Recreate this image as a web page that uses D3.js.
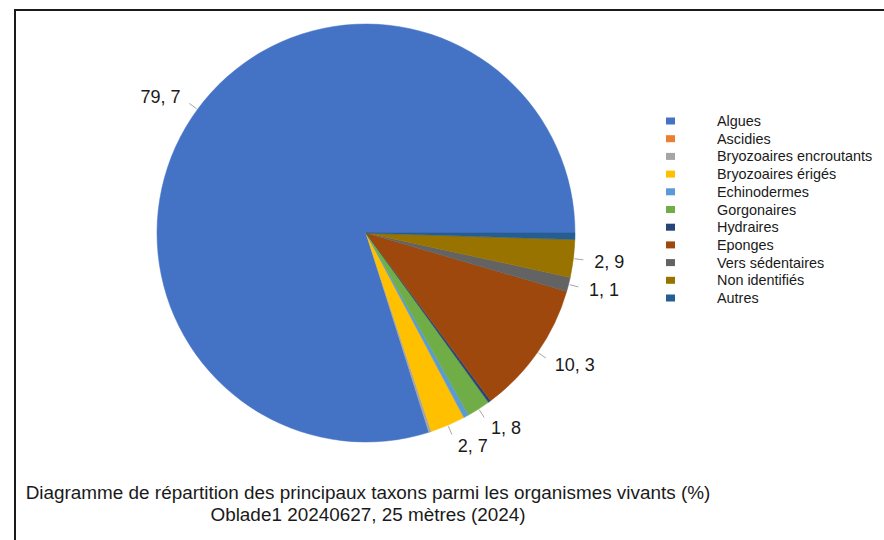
<!DOCTYPE html>
<html>
<head>
<meta charset="utf-8">
<script src="https://cdn.jsdelivr.net/npm/d3@7"></script>
<style>
  html, body { margin: 0; padding: 0; background: #ffffff; }
  svg { display: block; font-family: "Liberation Sans", Arial, sans-serif; }
</style>
</head>
<body>
<svg id="chart" width="884" height="540"></svg>
<script>
// Taxon categories (legend order) and their share of living organisms (%)
const taxa = [
  "Algues", "Ascidies", "Bryozoaires encroutants", "Bryozoaires érigés",
  "Echinodermes", "Gorgonaires", "Hydraires", "Eponges",
  "Vers sédentaires", "Non identifiés", "Autres"
];
const shares = [79.7, 0, 0.2, 2.7, 0.4, 1.8, 0.2, 10.3, 1.1, 2.9, 0.5];
// Only slices of at least 1 % carry a value label
const labelled = [true, false, false, true, false, true, false, true, true, true, false];
const palette = [
  "#4472C4", "#ED7D31", "#A5A5A5", "#FFC000", "#5B9BD5", "#70AD47",
  "#264478", "#9E480E", "#636363", "#997300", "#255E91"
];
const titleLines = [
  "Diagramme de répartition des principaux taxons parmi les organismes vivants (%)",
  "Oblade1 20240627, 25 mètres (2024)"
];

const svg = d3.select("#chart");

// Frame around the chart area (top and left edges)
svg.append("path")
  .attr("d", "M15,540 L15,10 L884,10")
  .attr("fill", "none")
  .attr("stroke", "#1a1a1a")
  .attr("stroke-width", 2);

const cx = 366, cy = 233, radius = 209;

const data = taxa.map((t, i) => ({ name: t, value: shares[i], color: palette[i], label: labelled[i] }));

// Slices run counter-clockwise, starting at 3 o'clock
const pie = d3.pie()
  .value(d => d.value)
  .sort(null)
  .startAngle(Math.PI / 2)
  .endAngle(Math.PI / 2 - 2 * Math.PI);

const arcs = pie(data);
const arc = d3.arc().innerRadius(0).outerRadius(radius);

const g = svg.append("g").attr("transform", `translate(${cx},${cy})`);

g.selectAll("path.slice")
  .data(arcs.filter(d => d.data.value > 0))
  .join("path")
  .attr("class", "slice")
  .attr("d", arc)
  .attr("fill", d => d.data.color)
  .attr("stroke", d => d.data.color)
  .attr("stroke-width", 0.5);

// Value labels with short leader lines
const fmt = v => String(v).replace(".", ", ");
const labelArcs = arcs.filter(d => d.data.label);

labelArcs.forEach(d => {
  const a = (d.startAngle + d.endAngle) / 2;   // d3 angle: clockwise from 12 o'clock
  const ux = Math.sin(a), uy = -Math.cos(a);
  const p1 = [ux * (radius + 1), uy * (radius + 1)];
  const p2 = [ux * (radius + 10), uy * (radius + 10)];
  g.append("line")
    .attr("x1", p1[0]).attr("y1", p1[1])
    .attr("x2", p2[0]).attr("y2", p2[1])
    .attr("stroke", "#a6a6a6")
    .attr("stroke-width", 1);
  const gap = 5 + 6 * ux * ux;
  const right = ux >= 0;
  g.append("text")
    .attr("x", right ? p2[0] + gap : p2[0] - gap)
    .attr("y", p2[1] + uy * 12 + 6.5)
    .attr("text-anchor", right ? "start" : "end")
    .attr("font-size", 18)
    .attr("fill", "#1a1a1a")
    .text(fmt(d.data.value));
});

// Legend
const legend = svg.append("g");
const rowY = d3.scalePoint().domain(taxa).range([121, 298]);
taxa.forEach((t, i) => {
  const y = rowY(t);
  legend.append("rect")
    .attr("x", 666).attr("y", y - 3.5)
    .attr("width", 9).attr("height", 7)
    .attr("fill", palette[i]);
  legend.append("text")
    .attr("x", 717).attr("y", y + 5)
    .attr("font-size", 14.4)
    .attr("fill", "#1a1a1a")
    .text(t);
});

// Title below the pie
svg.append("g").selectAll("text")
  .data(titleLines)
  .join("text")
  .attr("x", 368)
  .attr("y", (d, i) => 499 + i * 22)
  .attr("text-anchor", "middle")
  .attr("font-size", 18.9)
  .attr("fill", "#1a1a1a")
  .text(d => d);
</script>
</body>
</html>
